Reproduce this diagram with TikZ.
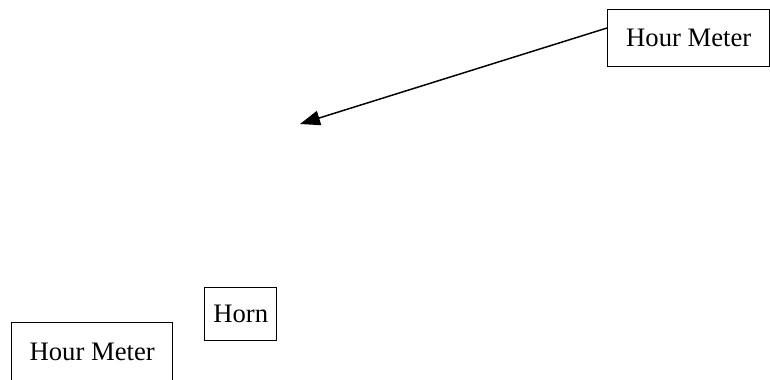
\documentclass[tikz,border=0pt]{standalone}
\usepackage{fontspec}
\setmainfont{Liberation Serif}
\usetikzlibrary{arrows.meta}
\begin{document}
\begin{tikzpicture}[x=0.75pt,y=-0.75pt,
  box/.style={draw,line width=1.1pt,inner sep=0pt,font=\fontsize{20}{24}\selectfont},
  conn/.style={line width=1.1pt,-{Triangle[length=15pt,width=11pt]}}]
\useasboundingbox (0,0) rectangle (770,379);
\node[box,minimum width=162*0.75pt,minimum height=57*0.75pt,anchor=north west] (hm1) at (607,9) {Hour Meter};
\coordinate (tip) at (300,124);
\draw[conn] (hm1.west |- 0,28) -- (tip);
\node[box,minimum width=72*0.75pt,minimum height=53*0.75pt,anchor=north west] (horn) at (204,287) {Horn};
\node[box,minimum width=161*0.75pt,minimum height=58*0.75pt,anchor=north west] (hm2) at (11,322) {Hour Meter};
\end{tikzpicture}
\end{document}
